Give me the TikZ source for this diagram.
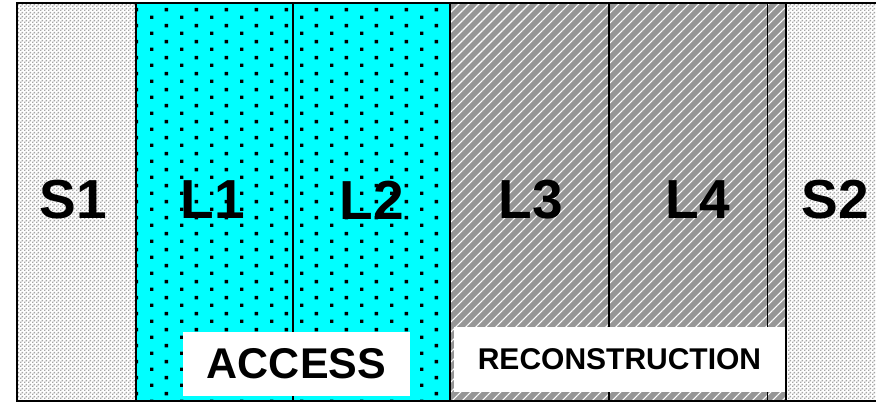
\documentclass[tikz,border=0pt]{standalone}
\usepackage{fontspec}
\setmainfont{Liberation Sans}
\usetikzlibrary{patterns,patterns.meta}
\definecolor{hatchgray}{RGB}{150,150,150}
\definecolor{sgray}{RGB}{165,165,165}
\definecolor{aqua}{RGB}{0,255,255}
\pgfdeclarepatternformonly{cyandots}{\pgfpointorigin}{\pgfpoint{30pt}{15.5pt}}{\pgfpoint{30pt}{15.5pt}}{%
  \pgfpathrectangle{\pgfpoint{0pt}{0pt}}{\pgfpoint{3.6pt}{3.6pt}}%
  \pgfpathrectangle{\pgfpoint{15pt}{7.75pt}}{\pgfpoint{3.6pt}{3.6pt}}%
  \pgfusepath{fill}}
\pgfdeclarepatternformonly{finedots}{\pgfpointorigin}{\pgfpoint{4pt}{4pt}}{\pgfpoint{4pt}{4pt}}{%
  \pgfpathrectangle{\pgfpoint{0pt}{0pt}}{\pgfpoint{1.8pt}{1.8pt}}%
  \pgfpathrectangle{\pgfpoint{2pt}{2pt}}{\pgfpoint{1.8pt}{1.8pt}}%
  \pgfusepath{fill}}
\tikzset{
  sfield/.style={inner sep=0pt, draw=none, fill=white, postaction={pattern=finedots, pattern color=sgray}},
  lfield/.style={inner sep=0pt, draw=none, fill=aqua, postaction={pattern=cyandots, pattern color=black}},
  hfield/.style={inner sep=0pt, draw=none, fill=hatchgray, postaction={pattern={Lines[angle=45,distance=7.07pt,line width=1.1pt]}, pattern color=white}},
  biglabel/.style={font=\fontsize{55}{60}\selectfont\bfseries, text=black},
  labelbox/.style={fill=white, draw=none, inner sep=0pt},
  thickline/.style={line width=2.2pt},
  thinline/.style={line width=1.2pt},
}
\begin{document}
\begin{tikzpicture}[x=1pt,y=-1pt]
\useasboundingbox (0,0) rectangle (876,403);
\clip (0,0) rectangle (876,403);
% fields
\path[sfield] (17,3) rectangle (136,401);
\path[lfield] (136,3) rectangle (450,401);
\path[hfield] (450,3) rectangle (786,401);
\path[sfield] (786,3) rectangle (890,401);
% coordinates for dividers
\coordinate (t1) at (136,3); \coordinate (b1) at (136,401);
\coordinate (t2) at (293,3); \coordinate (b2) at (293,401);
\coordinate (t3) at (450,3); \coordinate (b3) at (450,401);
\coordinate (t4) at (609,3); \coordinate (b4) at (609,401);
\coordinate (t5) at (767,3); \coordinate (b5) at (767,401);
\coordinate (t6) at (786,3); \coordinate (b6) at (786,401);
\draw[thickline] (t1) -- (b1);
\draw[thinline, line width=1.8pt] (t2) -- (b2);
\draw[thickline] (t3) -- (b3);
\draw[thinline, line width=1.6pt] (t4) -- (b4);
\draw[thinline, line width=1pt] (t5) -- (b5);
\draw[thickline] (t6) -- (b6);
% outer border
\draw[thickline] (890,3) -- (17,3) -- (17,401) -- (890,401);
% labels
\node[biglabel] (s1) at (73.5,200) {S1};
\node[biglabel] (l1) at (213,200) {L1};
\node[biglabel] (l2) at (372,200) {L2};
\node[biglabel] (l3) at (531,200) {L3};
\node[biglabel] (l4) at (698,200) {L4};
\node[biglabel] (s2) at (835,200) {S2};
% bottom boxes
\node[labelbox, minimum width=227pt, minimum height=64pt] (access) at (296.5,364) {\fontsize{43}{47}\selectfont\bfseries ACCESS};
\node[labelbox, minimum width=331pt, minimum height=65pt] (recon) at (619.5,359.5) {\fontsize{30}{34}\selectfont\bfseries RECONSTRUCTION};
\end{tikzpicture}
\end{document}
